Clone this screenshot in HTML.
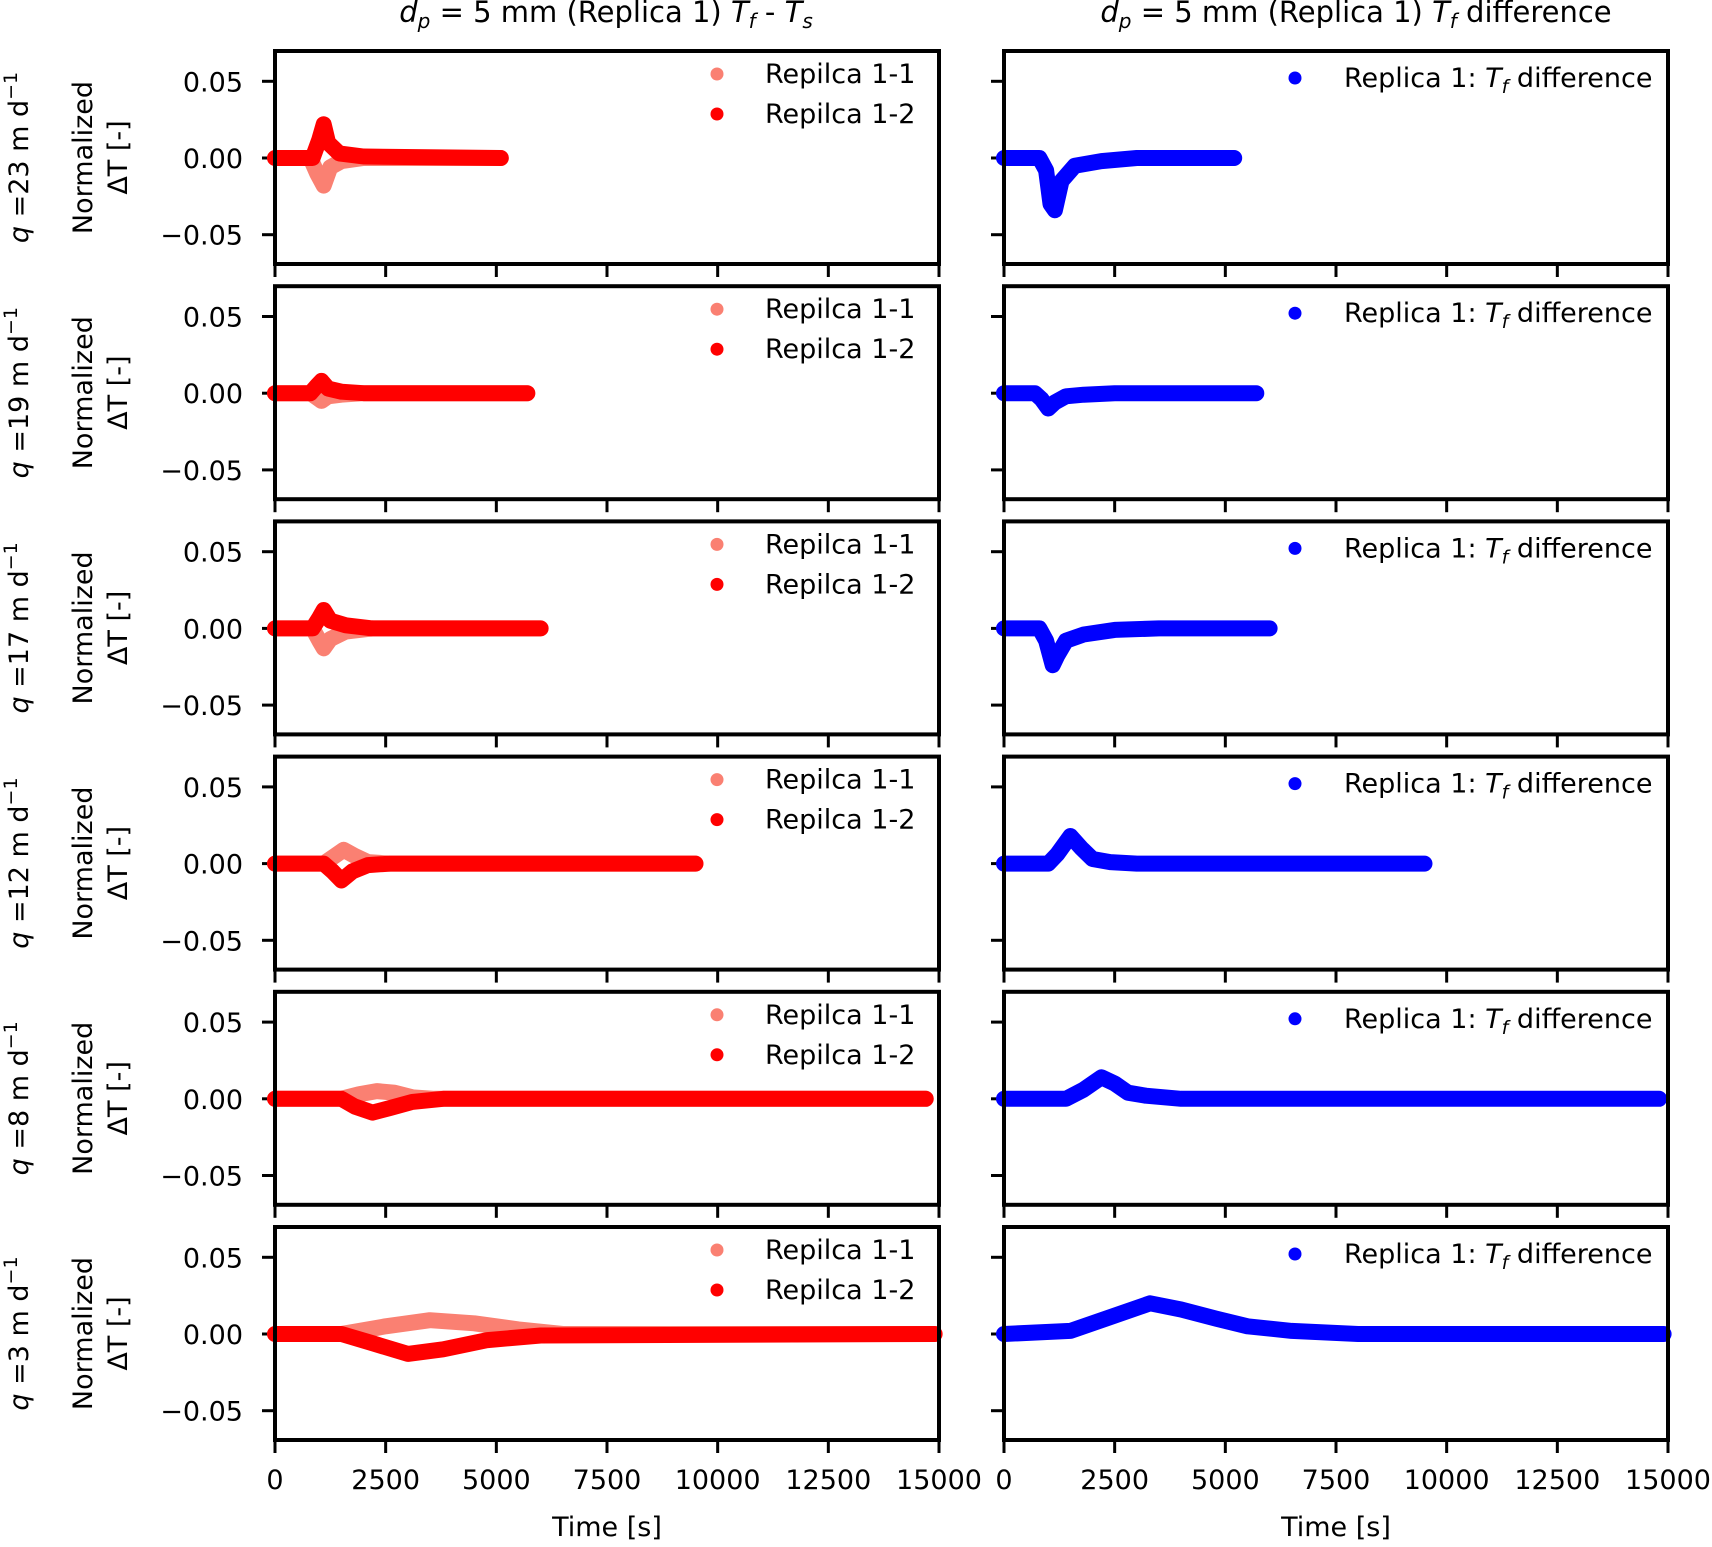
<!DOCTYPE html>
<html><head><meta charset="utf-8"><style>
html,body{margin:0;padding:0;background:#fff}
svg text{font-family:"DejaVu Sans","Liberation Sans",sans-serif;font-size:27px;fill:#000}
</style></head><body>
<svg id="fig" width="1712" height="1542" viewBox="0 0 1712 1542" xmlns="http://www.w3.org/2000/svg"></svg>
<script>
// ---- data (time [s], normalized ΔT) ----
const rowLabels = ["23","19","17","12","8","3"];
const xTicks = [0,2500,5000,7500,10000,12500,15000];
const yTicks = [0.05,0.00,-0.05];
const yTickLabels = ["0.05","0.00","\u22120.05"];
const r11Time = [
 [0,800,950,1100,1250,1500,2000,5100],
 [0,800,950,1050,1200,1500,2000,5700],
 [0,850,1000,1100,1250,1600,2200,6000],
 [0,1100,1350,1550,1800,2100,2600,9500],
 [0,1500,1900,2300,2700,3100,3600,14700],
 [0,1500,2500,3500,4500,5500,6500,14900]];
const r11Vals = [
 [0,0,-0.010,-0.018,-0.006,-0.002,0,0],
 [0,0,-0.003,-0.005,-0.002,-0.001,0,0],
 [0,0,-0.008,-0.013,-0.007,-0.002,0,0],
 [0,0,0.005,0.009,0.005,0.001,0,0],
 [0,0,0.003,0.005,0.004,0.001,0,0],
 [0,0,0.005,0.009,0.007,0.003,0,0]];
const r12Time = [
 [0,850,1000,1100,1200,1450,2000,5100],
 [0,800,950,1050,1200,1500,2000,5700],
 [0,850,1000,1100,1250,1600,2200,6000],
 [0,1100,1300,1500,1750,2100,2600,9500],
 [0,1500,1800,2200,2600,3100,3800,14700],
 [0,1500,2200,3000,3800,4800,6000,14900]];
const r12Vals = [
 [0,0,0.012,0.022,0.010,0.003,0.001,0],
 [0,0,0.005,0.008,0.003,0.001,0,0],
 [0,0,0.007,0.012,0.005,0.002,0,0],
 [0,0,-0.005,-0.011,-0.005,-0.001,0,0],
 [0,0,-0.005,-0.009,-0.006,-0.002,0,0],
 [0,0,-0.006,-0.013,-0.010,-0.004,-0.001,0]];
const blueTime = [
 [0,800,950,1050,1150,1300,1600,2200,3000,5200],
 [0,700,850,1000,1150,1400,1800,2500,3500,5700],
 [0,800,950,1100,1200,1400,1800,2500,3500,6000],
 [0,1000,1200,1500,1750,2000,2400,3000,4000,9500],
 [0,1400,1800,2200,2500,2800,3200,4000,6000,14800],
 [0,1500,2300,3300,4000,4800,5500,6500,8000,14900]];
const blueVals = [
 [0,0,-0.008,-0.030,-0.034,-0.015,-0.005,-0.002,0,0],
 [0,0,-0.004,-0.010,-0.006,-0.002,-0.001,0,0,0],
 [0,0,-0.008,-0.024,-0.018,-0.008,-0.004,-0.001,0,0],
 [0,0,0.006,0.018,0.010,0.003,0.001,0,0,0],
 [0,0,0.006,0.014,0.010,0.004,0.002,0,0,0],
 [0,0.002,0.010,0.020,0.016,0.010,0.005,0.002,0,0]];

const svg=document.getElementById('fig');
const NS="http://www.w3.org/2000/svg";
function mk(t,a,p){const e=document.createElementNS(NS,t);for(const k in a)e.setAttribute(k,a[k]);(p||svg).appendChild(e);return e;}
const cols=[{x0:275,x1:939},{x0:1004,x1:1668}];
const top0=51,pitch=235.2,H=213,zeroOff=107,pxPer=76.7/0.05;
function sx(c,t){return cols[c].x0+(t/15000)*(cols[c].x1-cols[c].x0);}
function sy(r,v){return top0+r*pitch+zeroOff-v*pxPer;}

const SUB='style="font-size:20px;font-style:italic"';
let t=mk('text',{x:606,y:22,'text-anchor':'middle',style:'font-size:29px'});

t.innerHTML='<tspan font-style="italic">d</tspan><tspan '+SUB+' dy="6">p</tspan><tspan dy="-6"> = 5 mm (Replica 1) </tspan><tspan font-style="italic">T</tspan><tspan '+SUB+' dy="6">f</tspan><tspan dy="-6"> - </tspan><tspan font-style="italic">T</tspan><tspan '+SUB+' dy="6">s</tspan>';
t=mk('text',{x:1356,y:22,'text-anchor':'middle',style:'font-size:29px'});

t.innerHTML='<tspan font-style="italic">d</tspan><tspan '+SUB+' dy="6">p</tspan><tspan dy="-6"> = 5 mm (Replica 1) </tspan><tspan font-style="italic">T</tspan><tspan '+SUB+' dy="6">f</tspan><tspan dy="-6"> difference</tspan>';

function series(c,r,ts,vs,color,name){
  let d='';for(let i=0;i<ts.length;i++){d+=(i?'L':'M')+sx(c,ts[i]).toFixed(1)+','+sy(r,vs[i]).toFixed(1);}
  const p=mk('path',{d:d,fill:'none',stroke:color,'stroke-width':16,'stroke-linejoin':'round','stroke-linecap':'round'});
  
  
}

for(let r=0;r<6;r++){
  const top=top0+r*pitch;
  const cy=top+H/2;
  let q=mk('text',{transform:`translate(28,${cy}) rotate(-90)`,'text-anchor':'middle'});
  
  q.innerHTML='<tspan font-style="italic">q</tspan> ='+rowLabels[r]+' m d<tspan style="font-size:19px" dy="-11">\u22121</tspan>';
  let yl=mk('text',{transform:`translate(92,${cy}) rotate(-90)`,'text-anchor':'middle'});
  
  yl.textContent='Normalized';
  yl=mk('text',{transform:`translate(127,${cy}) rotate(-90)`,'text-anchor':'middle'});
  
  yl.textContent='\u0394T [-]';
  for(let c=0;c<2;c++){
    const g=mk('g',{});
    
    
    yTicks.forEach((v,i)=>{
      const y=sy(r,v);
      mk('line',{x1:cols[c].x0-13,x2:cols[c].x0,y1:y,y2:y,stroke:'#000','stroke-width':3},g);
      if(c===0){const tl=mk('text',{x:243,y:y+10,'text-anchor':'end'},g);
        
        tl.textContent=yTickLabels[i];}
    });
    xTicks.forEach(v=>{
      const x=sx(c,v);
      mk('line',{x1:x,x2:x,y1:top+H,y2:top+H+13,stroke:'#000','stroke-width':3},g);
      if(r===5){const tl=mk('text',{x:x,y:1489,'text-anchor':'middle'},g);
        
        tl.textContent=String(v);}
    });
    if(c===0){
      series(0,r,r11Time[r],r11Vals[r],'#FA8072','series-replica-1-1');
      series(0,r,r12Time[r],r12Vals[r],'#FF0000','series-replica-1-2');
      let m=mk('circle',{cx:717,cy:top+23,r:6.5,fill:'#FA8072'});
      
      let lt=mk('text',{x:765,y:top+32});
      lt.textContent='Repilca 1-1';
      m=mk('circle',{cx:717,cy:top+63,r:6.5,fill:'#FF0000'});
      
      lt=mk('text',{x:765,y:top+72});
      lt.textContent='Repilca 1-2';
    } else {
      series(1,r,blueTime[r],blueVals[r],'#0000FF','series-tf-difference');
      let m=mk('circle',{cx:1295,cy:top+27,r:6.5,fill:'#0000FF'});
      
      let lt=mk('text',{x:1344,y:top+36});
      
      lt.innerHTML='Replica 1: <tspan font-style="italic">T</tspan><tspan style="font-size:19px;font-style:italic" dy="6">f</tspan><tspan dy="-6"> difference</tspan>';
    }
    const f=mk('rect',{x:cols[c].x0,y:top,width:cols[c].x1-cols[c].x0,height:H,fill:'none',stroke:'#000','stroke-width':4});
    
  }
}
['left','right'].forEach((s,c)=>{
  const xl=mk('text',{x:(cols[c].x0+cols[c].x1)/2,y:1536,'text-anchor':'middle'});
  
  xl.textContent='Time [s]';
});
</script>
</body></html>
